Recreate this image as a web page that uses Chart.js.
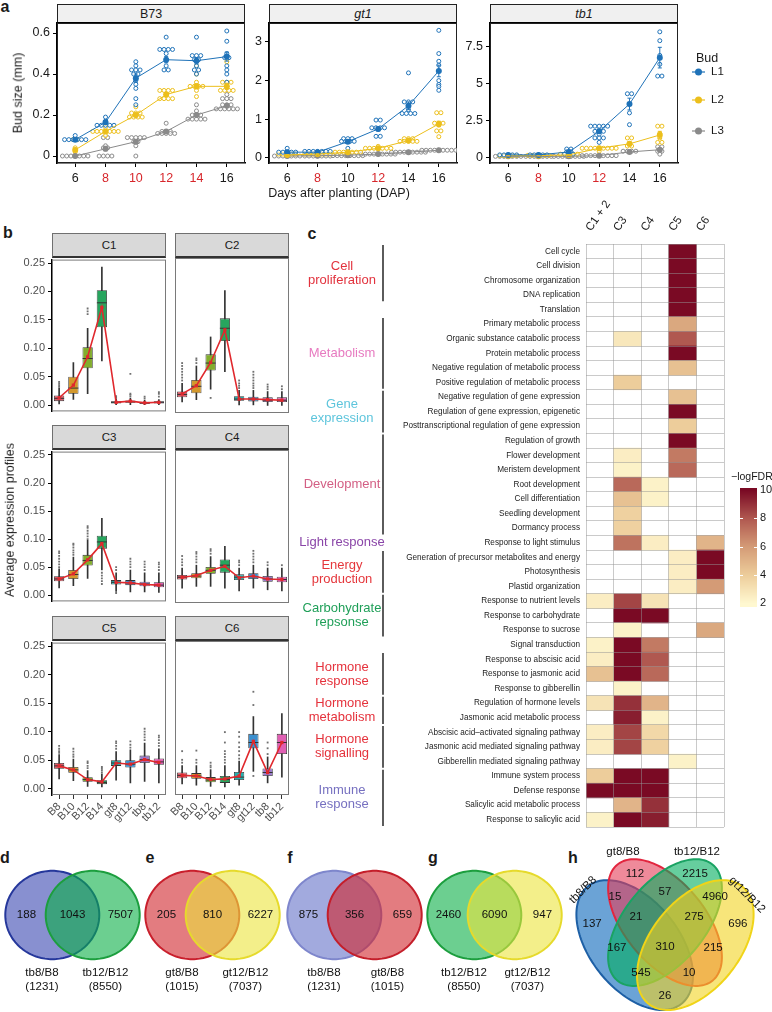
<!DOCTYPE html>
<html><head><meta charset="utf-8">
<script src="https://cdn.jsdelivr.net/npm/chart.js@4.4.1/dist/chart.umd.min.js"></script>
<style>
body{margin:0;width:772px;height:1012px;position:relative;overflow:hidden;background:#fff;font-family:'Liberation Sans',Arial,Helvetica,sans-serif;color:#1a1a1a}
canvas{position:absolute}
.lab{position:absolute;white-space:nowrap;line-height:1}
.stripA{position:absolute;box-sizing:border-box;background:#f0f0f0;border:1px solid #222;border-bottom:2px solid #000;display:flex;align-items:center;justify-content:center;font-size:12.5px}
.stripB{position:absolute;box-sizing:border-box;background:#d9d9d9;border:1px solid #707070;border-bottom:2px solid #333;display:flex;align-items:center;justify-content:center;font-size:11.5px}
</style></head><body>
<script>
// ================= DATA =================
// Panel a
const DAYS=[6,8,10,12,14,16];
const BUDS=['L1','L2','L3'];
const A_PANELS=['B73','gt1','tb1'];
const A_RED_DAYS=[[8,10,12,14],[8,12],[8,12]];
const A_YTICKS=[[0,0.2,0.4,0.6],[0,1,2,3],[0,2.5,5,7.5]];
const A_YLABELS=[['0','0.2','0.4','0.6'],['0','1','2','3'],['0','2.5','5','7.5']];
const B73_MEAN=[[0.08,0.165,0.38,0.47,0.465,0.485],[0.03,0.12,0.20,0.30,0.34,0.34],[0.0,0.035,0.07,0.12,0.20,0.245]];
const B73_SEM=[[0.004,0.006,0.02,0.015,0.015,0.022],[0.008,0.005,0.01,0.01,0.012,0.015],[0,0.01,0.01,0.006,0.008,0.008]];
// dot plot values: [value, number of dots] per day
const B73_DOTS=[
 [[[0.08,6],[0.1,1]],[[0.15,5],[0.17,1],[0.19,1]],[[0.46,1],[0.44,1],[0.42,3],[0.40,2],[0.37,1],[0.35,1],[0.33,1],[0.28,1],[0.25,1]],[[0.58,1],[0.52,4],[0.50,1],[0.44,1],[0.42,2]],[[0.58,1],[0.49,3],[0.47,2],[0.44,1],[0.42,2],[0.40,1]],[[0.61,1],[0.56,1],[0.50,1],[0.48,2],[0.44,1],[0.42,1],[0.40,1],[0.36,1]]],
 [[[0.02,1],[0.04,1],[0.08,2]],[[0.12,7],[0.14,1],[0.10,1]],[[0.24,1],[0.21,3],[0.19,4]],[[0.32,4],[0.30,1],[0.28,4]],[[0.44,1],[0.40,1],[0.36,1],[0.34,4],[0.32,1],[0.29,1]],[[0.46,1],[0.36,3],[0.34,1],[0.32,4]]],
 [[[0,7]],[[0.09,2],[0.05,1],[0.04,2],[0,4]],[[0.09,5],[0.07,2],[0.05,1],[0,1]],[[0.16,1],[0.12,3],[0.11,5]],[[0.25,1],[0.22,1],[0.20,3],[0.18,5]],[[0.30,1],[0.28,3],[0.25,3],[0.23,6]]]
];
const GT1_MEAN=[[0.15,0.15,0.42,0.75,1.35,2.25],[0.08,0.10,0.15,0.25,0.45,0.88],[0.05,0.06,0.07,0.10,0.15,0.20]];
const GT1_SEM=[[0.02,0.01,0.03,0.05,0.1,0.15],[0.01,0.01,0.01,0.02,0.02,0.07],[0,0,0,0.005,0.005,0.01]];
const GT1_DOTS=[
 [[[0.25,1],[0.15,5]],[[0.17,7]],[[0.5,3],[0.43,4],[0.25,1]],[[0.98,2],[0.78,4],[0.56,2]],[[2.2,1],[1.45,3],[1.35,1],[1.25,1],[1.15,4]],[[3.3,1],[2.7,1],[2.5,1],[2.4,1],[2.25,1],[2.0,1],[1.9,1],[1.85,1],[1.75,1]]],
 [[[0.1,5]],[[0.1,7]],[[0.15,7],[0.1,1]],[[0.3,1],[0.25,7]],[[0.5,3],[0.43,5]],[[1.17,2],[0.9,3],[0.85,1],[0.7,2],[0.55,1]]],
 [[[0.05,7]],[[0.05,7]],[[0.06,8]],[[0.1,9]],[[0.15,9]],[[0.2,9]]]
];
const TB1_MEAN=[[0.15,0.15,0.35,1.75,3.6,6.75],[0.1,0.1,0.15,0.6,0.9,1.5],[0.05,0.05,0.05,0.1,0.35,0.5]];
const TB1_SEM=[[0.02,0.02,0.05,0.15,0.4,0.7],[0.01,0.01,0.02,0.05,0.15,0.25],[0.01,0.01,0.01,0.01,0.05,0.1]];
const TB1_DOTS=[
 [[[0.15,5]],[[0.15,5]],[[0.55,2],[0.35,2],[0.2,3]],[[2.1,5],[1.75,3],[1.55,1],[1.3,3],[1.0,1]],[[4.3,2],[3.6,1],[3.0,1],[2.2,1]],[[8.5,1],[7.9,1],[6.9,1],[6.3,1],[5.5,2]]],
 [[[0.1,5]],[[0.12,6]],[[0.2,5]],[[0.6,9],[0.4,1]],[[1.3,2],[0.9,1],[0.75,2]],[[2.1,2],[1.6,1],[1.3,1],[1.0,2]]],
 [[[0.05,7]],[[0.05,7]],[[0.05,8]],[[0.1,9]],[[0.4,4]],[[0.7,2],[0.5,1],[0.4,2],[0.2,1]]]
];

// Panel b: per sample [lower whisker, q1, median, q3, upper whisker]
const B_SAMPLES=['B8','B10','B12','B14','gt8','gt12','tb8','tb12'];
const B_CLUSTERS=['C1','C2','C3','C4','C5','C6'];
const B_YTICKS=[0,0.05,0.10,0.15,0.20,0.25];
const B_YLABELS=['0.00','0.05','0.10','0.15','0.20','0.25'];
const C1_BOX=[[0.002,0.007,0.012,0.017,0.03],[0.01,0.02,0.03,0.05,0.075],[0.02,0.065,0.082,0.102,0.135],[0.078,0.137,0.18,0.202,0.243],[0,0.003,0.005,0.007,0.011],[0.001,0.004,0.006,0.008,0.012],[0,0.002,0.004,0.006,0.009],[0,0.003,0.005,0.007,0.01]];
const C1_MEAN=[0.013,0.035,0.085,0.172,0.005,0.007,0.004,0.005];
const C1_OUT=[[0.032,0.035,0.038,0.041],[],[0.16,0.165,0.17],[],[0.013,0.016],[0.015,0.018,0.02,0.055],[0.012,0.015],[0.015,0.02,0.023]];
const C2_BOX=[[0.008,0.016,0.021,0.026,0.04],[0.012,0.023,0.035,0.046,0.07],[0.03,0.062,0.075,0.09,0.12],[0.06,0.113,0.135,0.152,0.2],[0.003,0.01,0.013,0.018,0.028],[0.003,0.009,0.013,0.017,0.028],[0.002,0.008,0.011,0.016,0.026],[0.002,0.008,0.011,0.016,0.026]];
const C2_MEAN=[0.022,0.036,0.076,0.132,0.013,0.013,0.012,0.011];
const C2_OUT=[[0.045,0.05,0.055,0.06,0.065,0.07,0.075],[0.075,0.08,0.083],[0.015],[],[0.032,0.036,0.04,0.045],[0.032,0.036,0.04,0.045,0.05,0.055,0.06],[0.03,0.034,0.038],[0.03,0.035]];
const C3_BOX=[[0.013,0.025,0.029,0.034,0.047],[0.017,0.029,0.037,0.045,0.068],[0.03,0.053,0.062,0.072,0.098],[0.045,0.083,0.095,0.106,0.137],[0.007,0.019,0.023,0.027,0.04],[0.006,0.018,0.022,0.027,0.045],[0.006,0.016,0.02,0.024,0.04],[0.005,0.014,0.018,0.023,0.04]];
const C3_MEAN=[0.029,0.038,0.063,0.092,0.023,0.022,0.019,0.018];
const C3_OUT=[[0.05,0.055,0.06,0.065,0.07,0.075,0.078],[0.072,0.076,0.08,0.085,0.09,0.092],[0.1,0.105,0.11,0.115,0.12,0.123],[0.02,0.025,0.03,0.035,0.04],[0.004,0.045,0.05],[0.05,0.055,0.06,0.065],[0.045,0.05,0.055,0.06],[0.045,0.05,0.055,0.058]];
const C4_BOX=[[0.015,0.03,0.034,0.038,0.05],[0.018,0.032,0.036,0.041,0.055],[0.018,0.04,0.046,0.052,0.07],[0.015,0.042,0.055,0.065,0.088],[0.01,0.029,0.034,0.039,0.05],[0.015,0.031,0.035,0.041,0.055],[0.012,0.026,0.031,0.036,0.05],[0.01,0.025,0.03,0.035,0.05]];
const C4_MEAN=[0.034,0.037,0.046,0.053,0.033,0.036,0.031,0.03];
const C4_OUT=[[0.055,0.06,0.065,0.071],[0.06,0.065,0.07,0.075,0.078],[0.075,0.08,0.083],[],[0.055,0.06,0.063],[0.06,0.065,0.07,0.075,0.08],[0.055,0.06],[0.055]];
const C5_BOX=[[0.017,0.035,0.04,0.045,0.06],[0.014,0.028,0.033,0.038,0.052],[0.004,0.012,0.016,0.02,0.032],[0.003,0.008,0.011,0.015,0.025],[0.015,0.04,0.045,0.05,0.065],[0.01,0.037,0.043,0.05,0.068],[0.013,0.045,0.051,0.058,0.08],[0.01,0.042,0.047,0.053,0.07]];
const C5_MEAN=[0.04,0.033,0.016,0.012,0.045,0.043,0.051,0.046];
const C5_OUT=[[0.063,0.066,0.07,0.075],[0.056,0.06,0.065,0.07],[0.036,0.04,0.045,0.048],[0.028,0.032,0.035,0.038],[0.07,0.075,0.08,0.083],[0.072,0.077,0.083],[0.085,0.09,0.095,0.1,0.105],[0.075,0.08,0.085,0.09,0.093]];
const C6_BOX=[[0.008,0.018,0.023,0.028,0.04],[0.006,0.017,0.022,0.027,0.04],[0.004,0.011,0.015,0.02,0.033],[0.003,0.01,0.016,0.022,0.04],[0.006,0.015,0.02,0.029,0.048],[0.03,0.07,0.08,0.095,0.125],[0.01,0.022,0.028,0.035,0.055],[0.02,0.06,0.08,0.095,0.13]];
const C6_MEAN=[0.023,0.022,0.016,0.017,0.022,0.082,0.028,0.08];
const C6_OUT=[[0.045,0.05,0.065],[0.045,0.05,0.066],[0.037,0.04,0.045],[0.045,0.05,0.055,0.06,0.065,0.08,0.098],[0.052,0.058,0.065,0.072,0.08,0.09,0.098],[0.022,0.145,0.168],[0.06,0.07,0.08],[]];

// Panel c
const C_COLS=['C1 + 2','C3','C4','C5','C6'];
const C_TERMS=['Cell cycle','Cell division','Chromosome organization','DNA replication','Translation','Primary metabolic process','Organic substance catabolic process','Protein metabolic process','Negative regulation of metabolic process','Positive regulation of metabolic process','Negative regulation of gene expression','Regulation of gene expression, epigenetic','Posttranscriptional regulation of gene expression','Regulation of growth','Flower development','Meristem development','Root development','Cell differentiation','Seedling development','Dormancy process','Response to light stimulus','Generation of precursor metabolites and energy','Photosynthesis','Plastid organization','Response to nutrient levels','Response to carbohydrate','Response to sucrose','Signal transduction','Response to abscisic acid','Response to jasmonic acid','Response to gibberellin','Regulation of hormone levels','Jasmonic acid metabolic process','Abscisic acid\u2013activated signaling pathway','Jasmonic acid mediated signaling pathway','Gibberellin mediated signaling pathway','Immune system process','Defense response','Salicylic acid metabolic process','Response to salicylic acid'];
const N=null;
const C_LOGFDR=[
[N,N,N,10,N],[N,N,N,10,N],[N,N,N,10,N],[N,N,N,10,N],[N,N,N,10,N],
[N,N,N,5.5,N],[N,2.8,N,8,N],[N,N,N,10,N],[N,N,N,4.5,N],[N,4,N,N,N],
[N,N,N,4.5,N],[N,N,N,10,N],[N,N,N,4,N],[N,N,N,10,N],[N,2.5,N,7,N],
[N,2.3,N,7.5,N],[N,7.5,2.3,N,N],[N,4.5,2.3,N,N],[N,3.8,N,N,N],[N,3.8,N,N,N],
[N,7.2,2.5,N,5],[N,N,N,2.5,10],[N,N,N,2.5,10],[N,N,N,2.5,6],[2.5,8.5,3,N,N],
[N,10,10,N,N],[N,2.3,N,N,5.5],[2.3,10,7,N,N],[2.5,10,8,N,N],[4.5,10,7.5,N,N],
[N,2.3,N,N,N],[3,9,5,N,N],[N,9.5,2.3,N,N],[2.5,8.5,3.5,N,N],[2.5,8.5,3.8,N,N],
[N,N,N,2.3,N],[4,10,10,N,N],[10,10,10,N,N],[N,5,9,N,N],[2.3,10,9.5,N,N]];
const C_LEGEND_TICKS=[10,8,6,4,2];
const C_GROUP_NAMES=[['Cell','proliferation'],['Metabolism'],['Gene','expression'],['Development'],['Light response'],['Energy','production'],['Carbohydrate','repsonse'],['Hormone','response'],['Hormone','metabolism'],['Hormone','signalling'],['Immune','response']];
const C_GROUP_ROWS=[[0,3],[5,9],[10,12],[13,19],[20,20],[21,23],[24,26],[28,30],[31,32],[33,35],[36,39]];

// Panels d-h
const D_NAMES=['tb8/B8','tb12/B12'], D_TOTALS=[1231,8550], D_COUNTS=[188,1043,7507];
const E_NAMES=['gt8/B8','gt12/B12'], E_TOTALS=[1015,7037], E_COUNTS=[205,810,6227];
const F_NAMES=['tb8/B8','gt8/B8'], F_TOTALS=[1231,1015], F_COUNTS=[875,356,659];
const G_NAMES=['tb12/B12','gt12/B12'], G_TOTALS=[8550,7037], G_COUNTS=[2460,6090,947];
const H_NAMES=['tb8/B8','gt8/B8','tb12/B12','gt12/B12'];
// regions: A=tb8, B=gt8, C=tb12, D=gt12
const H_REGIONS=['A','B','C','D','AB','BC','CD','AC','ABC','BCD','ABCD','ACD','ABD','AD','BD'];
const H_COUNTS=[137,112,2215,696,15,57,4960,167,21,275,310,545,10,26,215];

// ================= STYLE / HELPERS =================
const FONT="'Liberation Sans', Arial, Helvetica, sans-serif";
Chart.defaults.font.family=FONT;
Chart.defaults.animation=false;
Chart.defaults.responsive=false;
Chart.defaults.plugins.legend.display=false;
Chart.defaults.plugins.tooltip.enabled=false;
Chart.defaults.events=[];
const BUD_COLORS=['#1f72b8','#ecbf1c','#8a8a8a'];
const B_FILL=['#e05a68','#d3982c','#82ad2d','#27a55e','#24b0ae','#3b8fce','#9a7acb','#e05fb3'];

function mk(x,y,w,h){const c=document.createElement('canvas');c.width=w;c.height=h;c.style.left=x+'px';c.style.top=y+'px';c.style.width=w+'px';c.style.height=h+'px';document.body.appendChild(c);return c;}
function T(s,x,y,css,rot){const d=document.createElement('div');d.className='lab';d.textContent=s;d.style.left=x+'px';d.style.top=y+'px';if(css)d.style.cssText+=css;d.style.transform='translate(-50%,-50%)'+(rot?' rotate('+rot+'deg)':'');document.body.appendChild(d);return d;}
function strip(cls,x,y,w,h,s,css){const d=document.createElement('div');d.className=cls;d.style.left=x+'px';d.style.top=y+'px';d.style.width=w+'px';d.style.height=h+'px';d.textContent=s;if(css)d.style.cssText+=css;document.body.appendChild(d);}
function frame(color,width){return {id:'frame',beforeDatasetsDraw(ch){const a=ch.chartArea,c=ch.ctx;c.save();c.strokeStyle=color;c.lineWidth=width;c.strokeRect(a.left+0.5,a.top+0.5,a.right-a.left-1,a.bottom-a.top-1);c.restore();}};}
const errBars={id:'errBars',afterDatasetsDraw(ch){const c=ch.ctx,ys=ch.scales.y;ch.data.datasets.forEach((ds,i)=>{if(!ds.sem)return;const m=ch.getDatasetMeta(i);c.save();c.strokeStyle=ds.borderColor;c.lineWidth=1;ds.data.forEach((p,k)=>{const e=ds.sem[k];if(!e)return;const x=m.data[k].x,y1=ys.getPixelForValue(p.y-e),y2=ys.getPixelForValue(p.y+e);c.beginPath();c.moveTo(x,y1);c.lineTo(x,y2);c.moveTo(x-2,y1);c.lineTo(x+2,y1);c.moveTo(x-2,y2);c.lineTo(x+2,y2);c.stroke();});c.restore();});}};
function dotsOf(pairs,day,sp){const out=[];pairs.forEach(([v,n])=>{for(let j=0;j<n;j++)out.push({x:day+(j-(n-1)/2)*sp,y:v});});return out;}

// panel letters
[['a',5,7],['b',8,233],['c',312,234],['d',5,858],['e',150,858],['f',290,858],['g',433,858],['h',573,858]].forEach(([s,x,y])=>T(s,x,y,'font-weight:bold;font-size:16px;'));

// ================= PANEL A =================
function makeA(i,pl,yW,yMin,yMax,dots,means,sems,legend){
  const pt=23,pw=188,ph=140,padT=12,padR=legend?94:12,xH=22;
  strip('stripA',pl,4,pw,20,A_PANELS[i],i>0?'font-style:italic;':'');
  const cv=mk(pl-yW,pt-padT,yW+pw+padR,padT+ph+xH);
  const ds=[];
  BUDS.forEach((b,s)=>ds.push({label:b,data:DAYS.map((d,k)=>({x:d,y:means[s][k]})),sem:sems[s],showLine:true,borderColor:BUD_COLORS[s],backgroundColor:BUD_COLORS[s],borderWidth:1,pointRadius:3,pointBorderWidth:0,order:s}));
  BUDS.forEach((b,s)=>{const pts=[];DAYS.forEach((d,k)=>pts.push(...dotsOf(dots[s][k],d,0.28)));ds.push({label:b+' dots',data:pts,borderColor:BUD_COLORS[s],backgroundColor:'rgba(255,255,255,0.55)',borderWidth:1,pointRadius:2,order:10+s});});
  const plugins=[frame('#222',1),errBars];
  if(legend){plugins.push({id:'budLegend',afterDraw(ch){const c=ch.ctx,x0=ch.chartArea.right;c.save();c.textBaseline='middle';c.textAlign='left';c.font='12.5px '+FONT;c.fillStyle='#1a1a1a';c.fillText('Bud',x0+18,48);
    BUDS.forEach((b,s)=>{const y=[61,89,120][s];c.strokeStyle=BUD_COLORS[s];c.lineWidth=1.2;c.beginPath();c.moveTo(x0+14,y);c.lineTo(x0+27,y);c.stroke();c.fillStyle=BUD_COLORS[s];c.beginPath();c.arc(x0+20.5,y,3.5,0,Math.PI*2);c.fill();c.fillStyle='#1a1a1a';c.font='11.5px '+FONT;c.fillText(b,x0+33,y);});c.restore();}});}
  new Chart(cv,{type:'scatter',data:{datasets:ds},options:{layout:{padding:{top:padT,right:padR,left:0,bottom:0}},
    scales:{
      x:{type:'linear',min:4.8,max:17.2,afterBuildTicks:s=>{s.ticks=DAYS.map(v=>({value:v}));},afterFit:s=>{s.height=xH;},
        ticks:{font:{size:12.5},color:c=>A_RED_DAYS[i].includes(c.tick.value)?'#d7262b':'#1a1a1a',padding:4,autoSkip:false,maxRotation:0,callback:v=>String(v)},
        grid:{display:true,drawOnChartArea:false,tickLength:4,tickColor:'#000'},border:{display:true,color:'#000',width:1.5}},
      y:{type:'linear',min:yMin,max:yMax,afterBuildTicks:s=>{s.ticks=A_YTICKS[i].map(v=>({value:v}));},afterFit:s=>{s.width=yW;},
        ticks:{font:{size:12.5},color:'#1a1a1a',padding:3,callback:(v,k)=>A_YLABELS[i][k]},
        grid:{display:true,drawOnChartArea:false,tickLength:4,tickColor:'#000'},border:{display:true,color:'#000',width:1.5}}
    }},plugins});
}
makeA(0,57,57,-0.034,0.649,B73_DOTS,B73_MEAN,B73_SEM,false);
makeA(1,269,24,-0.13,3.49,GT1_DOTS,GT1_MEAN,GT1_SEM,false);
makeA(2,490,34,-0.4,9.1,TB1_DOTS,TB1_MEAN,TB1_SEM,true);
T('Bud size (mm)',18,93,'font-size:12.5px;',-90);
T('Days after planting (DAP)',339,193,'font-size:12.5px;');

// ================= PANEL B =================
function makeB(ci,pl,pt,ph,showY,showX,box,mean,out){
  const pw=114,padT=8,padR=8,padL=showY?0:20,yW=showY?52:0,xH=showX?40:0,padB=showX?0:8;
  strip('stripB',pl,pt-25,pw,25,B_CLUSTERS[ci]);
  const cv=mk(pl-yW-padL,pt-padT,padL+yW+pw+padR,padT+ph+xH+padB);
  const outPts=[];out.forEach((arr,k)=>arr.forEach(v=>outPts.push({x:B_SAMPLES[k],y:v})));
  new Chart(cv,{type:'bar',data:{labels:B_SAMPLES,datasets:[
    {type:'line',label:'mean',data:mean,borderColor:'#e0282d',backgroundColor:'#e0282d',borderWidth:1.6,pointStyle:'rect',pointRadius:2.3,pointBorderWidth:0,order:0},
    {type:'line',label:'median',data:box.map(b=>b[2]),showLine:false,pointStyle:'line',pointRadius:5,pointBorderColor:'#333',pointBorderWidth:1,order:1},
    {type:'line',label:'outliers',data:outPts,showLine:false,pointStyle:'rect',pointRadius:1.3,pointBorderWidth:0,backgroundColor:'#707070',order:2},
    {label:'box',data:box.map(b=>[b[1],b[3]]),backgroundColor:B_FILL,borderColor:'#333',borderWidth:0.8,borderSkipped:false,barPercentage:0.72,categoryPercentage:1,grouped:false,order:3},
    {label:'whisker',data:box.map(b=>[b[0],b[4]]),backgroundColor:'#333',barThickness:1,grouped:false,order:4}
  ]},options:{layout:{padding:{top:padT,right:padR,left:padL,bottom:padB}},
    scales:{
      x:{display:showX,offset:true,afterFit:s=>{s.height=xH;},ticks:{font:{size:11},color:'#4d4d4d',minRotation:45,maxRotation:45,padding:1,autoSkip:false},
        grid:{display:true,offset:false,drawOnChartArea:false,tickLength:4,tickColor:'#333'},border:{display:false}},
      y:{display:showY,min:-0.011,max:0.256,afterBuildTicks:s=>{s.ticks=B_YTICKS.map(v=>({value:v}));},afterFit:s=>{s.width=yW;},
        ticks:{font:{size:11},color:'#4d4d4d',padding:3,callback:(v,k)=>B_YLABELS[k]},
        grid:{display:true,drawOnChartArea:false,tickLength:4,tickColor:'#000'},border:{display:true,color:'#000',width:1.5}}
    }},plugins:[frame('#7a7a7a',1)]});
}
makeB(0,52,258,155,true,false,C1_BOX,C1_MEAN,C1_OUT);
makeB(1,175,258,155,false,false,C2_BOX,C2_MEAN,C2_OUT);
makeB(2,52,450,153,true,false,C3_BOX,C3_MEAN,C3_OUT);
makeB(3,175,450,153,false,false,C4_BOX,C4_MEAN,C4_OUT);
makeB(4,52,641,154,true,true,C5_BOX,C5_MEAN,C5_OUT);
makeB(5,175,641,154,false,true,C6_BOX,C6_MEAN,C6_OUT);
T('Average expression profiles',10,520,'font-size:12.5px;',-90);

// ================= PANEL C =================
const HSTOPS=[[2,[255,248,208]],[4,[237,205,155]],[6,[212,155,118]],[8,[176,88,80]],[10,[122,10,36]]];
function heatColor(v){if(v==null)return 'rgba(255,255,255,0)';v=Math.max(2,Math.min(10,v));for(let i=1;i<HSTOPS.length;i++){if(v<=HSTOPS[i][0]){const [a,ca]=HSTOPS[i-1],[b,cb]=HSTOPS[i];const t=(v-a)/(b-a);return 'rgb('+ca.map((x,j)=>Math.round(x+(cb[j]-x)*t)).join(',')+')';}}return 'rgb(122,10,36)';}
const GROUP_COLORS=['#e2323d','#e77ac0','#5ec5dc','#d35f84','#8a45a8','#e5373c','#1f9f58','#e5323c','#e5323c','#e5323c','#7670c0'];
const heatDeco={id:'heatDeco',afterDraw(ch){
  const c=ch.ctx,ys=ch.scales.y,rh=ys.getPixelForValue(1)-ys.getPixelForValue(0);
  c.save();
  C_GROUP_NAMES.forEach((name,g)=>{
    const [r0,r1]=C_GROUP_ROWS[g];const y0=ys.getPixelForValue(r0)-rh/2+1,y1=ys.getPixelForValue(r1)+rh/2-1;
    if(r1>r0){c.strokeStyle='#333';c.lineWidth=1.6;c.beginPath();c.moveTo(83,y0);c.lineTo(83,y1);c.stroke();}
    c.fillStyle=GROUP_COLORS[g];c.font='13px '+FONT;c.textAlign='center';c.textBaseline='middle';
    const yc=(y0+y1)/2;name.forEach((s,k)=>c.fillText(s,42,yc+(k-(name.length-1)/2)*14));
  });
  // colour bar legend
  const bx=440,bw=17,yTop=290,yBot=403;
  for(let y=yTop-2;y<=yBot+3;y++){const v=2+(yBot-y)/(yBot-yTop)*8;c.fillStyle=heatColor(v);c.fillRect(bx,y,bw,1);}
  c.strokeStyle='#fff';c.lineWidth=1;
  [4,6,8].forEach(v=>{const y=Math.round(yBot-(v-2)/8*(yBot-yTop))+0.5;c.beginPath();c.moveTo(bx,y);c.lineTo(bx+3,y);c.moveTo(bx+bw-3,y);c.lineTo(bx+bw,y);c.stroke();});
  c.fillStyle='#1a1a1a';c.textAlign='left';c.textBaseline='middle';c.font='10.5px '+FONT;
  c.fillText('\u2212logFDR',431,277);
  c.font='11px '+FONT;
  C_LEGEND_TICKS.forEach(v=>c.fillText(String(v),bx+bw+3,yBot-(v-2)/8*(yBot-yTop)));
  c.restore();
}};
(function(){
  const cv=mk(300,200,472,640);
  new Chart(cv,{type:'bar',data:{labels:C_TERMS,datasets:C_COLS.map((col,k)=>({label:col,data:C_TERMS.map(()=>[k,k+1]),backgroundColor:C_LOGFDR.map(r=>heatColor(r[k])),borderWidth:0,barPercentage:1,categoryPercentage:1,grouped:false}))},
    options:{indexAxis:'y',layout:{padding:{top:0,right:48,left:0,bottom:13}},
      scales:{
        x:{type:'linear',position:'top',min:0,max:5,afterBuildTicks:s=>{s.ticks=[0,1,2,3,4,5].map(v=>({value:v}));},afterFit:s=>{s.height=0;},
          ticks:{display:false},grid:{color:'rgba(150,150,150,0.5)',lineWidth:1,drawTicks:false,z:1},border:{display:false}},
        x2:{type:'linear',position:'top',min:0,max:5,afterBuildTicks:s=>{s.ticks=[0.5,1.5,2.5,3.5,4.5].map(v=>({value:v}));},afterFit:s=>{s.height=44;},
          ticks:{callback:(v,k)=>C_COLS[k],minRotation:55,maxRotation:55,autoSkip:false,font:{size:11.5},color:'#1a1a1a',padding:2},grid:{display:false},border:{display:false}},
        y:{type:'category',afterFit:s=>{s.width=286;},ticks:{font:{size:8.2},color:'#222',padding:6,autoSkip:false},
          grid:{offset:true,color:'rgba(150,150,150,0.5)',drawTicks:false,z:1},border:{display:false}}
      }},plugins:[heatDeco]});
})();

// ================= PANELS D-H =================
function ellipsePath(c,xs,ys,cx,cy,a,b,rot){const th=rot*Math.PI/180;c.beginPath();for(let t=0;t<=160;t++){const q=t/160*2*Math.PI;const u=cx+a*Math.cos(q)*Math.cos(th)-b*Math.sin(q)*Math.sin(th);const v=cy+a*Math.cos(q)*Math.sin(th)+b*Math.sin(q)*Math.cos(th);const px=xs.getPixelForValue(u),py=ys.getPixelForValue(v);if(t)c.lineTo(px,py);else c.moveTo(px,py);}c.closePath();}
function vennPlugin(shapes){return {id:'venn',beforeDatasetsDraw(ch){const c=ch.ctx,xs=ch.scales.x,ys=ch.scales.y;c.save();shapes.forEach(s=>{ellipsePath(c,xs,ys,s.cx,s.cy,s.a,s.b,s.rot);c.fillStyle=s.fill;c.fill();c.strokeStyle=s.stroke;c.lineWidth=2;c.stroke();});c.restore();},
  afterDatasetsDraw(ch){const c=ch.ctx;c.save();c.fillStyle='#111';c.textAlign='center';c.textBaseline='middle';c.font='11.5px '+FONT;ch.data.datasets.forEach((ds,i)=>{const m=ch.getDatasetMeta(i);ds.texts.forEach((s,k)=>{const p=m.data[k];c.save();c.translate(p.x,p.y);if(ds.rot)c.rotate(ds.rot[k]*Math.PI/180);c.fillText(s,0,0);c.restore();});});c.restore();}};}
function venn2(left,names,totals,counts,fills,strokes){
  const cv=mk(left,840,141,172);
  const shapes=[{cx:-0.43,cy:0,a:1,b:0.94,rot:0,fill:fills[0],stroke:strokes[0]},{cx:0.43,cy:0,a:1,b:0.94,rot:0,fill:fills[1],stroke:strokes[1]}];
  new Chart(cv,{type:'scatter',data:{datasets:[
    {label:'counts',texts:counts.map(String),data:[{x:-0.98,y:0},{x:0,y:0},{x:1.02,y:0}],pointRadius:0},
    {label:'names',texts:[names[0],'('+totals[0]+')',names[1],'('+totals[1]+')'],data:[{x:-0.65,y:-1.234},{x:-0.65,y:-1.532},{x:0.7,y:-1.234},{x:0.7,y:-1.532}],pointRadius:0}
  ]},options:{layout:{padding:0},scales:{x:{display:false,min:-1.5,max:1.5},y:{display:false,min:-2.064,max:1.596}}},plugins:[vennPlugin(shapes)]});
}
const BLUE_F='rgba(57,70,177,0.6)',GREEN_F='rgba(10,175,70,0.6)',RED_F='rgba(208,37,43,0.6)',YEL_F='rgba(235,228,60,0.6)';
venn2(2,D_NAMES,D_TOTALS,D_COUNTS,[BLUE_F,GREEN_F],['#25379b','#1c9e3e']);
venn2(142,E_NAMES,E_TOTALS,E_COUNTS,[RED_F,YEL_F],['#c91f2c','#e6da2c']);
venn2(284,F_NAMES,F_TOTALS,F_COUNTS,['rgba(70,85,190,0.5)',RED_F],['#7e86cc','#c41e2a']);
venn2(424,G_NAMES,G_TOTALS,G_COUNTS,[GREEN_F,YEL_F],['#1c9e3e','#e6da2c']);
(function(){
  const cv=mk(560,840,212,172);
  const shapes=[
    {cx:0.35,cy:0.47,a:0.35,b:0.21,rot:135,fill:'rgba(8,102,187,0.6)',stroke:'#1d5fa5'},
    {cx:0.50,cy:0.57,a:0.35,b:0.19,rot:135,fill:'rgba(228,60,87,0.6)',stroke:'#e2263f'},
    {cx:0.50,cy:0.57,a:0.35,b:0.19,rot:45,fill:'rgba(0,173,93,0.6)',stroke:'#1aa363'},
    {cx:0.65,cy:0.47,a:0.35,b:0.21,rot:45,fill:'rgba(242,212,33,0.6)',stroke:'#f0d418'}];
  const POS={A:[0.139,0.564],B:[0.351,0.786],C:[0.649,0.786],D:[0.861,0.564],AB:[0.252,0.684],BC:[0.5,0.706],CD:[0.748,0.686],AC:[0.262,0.457],ABC:[0.356,0.595],BCD:[0.644,0.595],ABCD:[0.5,0.461],ACD:[0.381,0.346],ABD:[0.619,0.346],AD:[0.5,0.244],BD:[0.738,0.457]};
  new Chart(cv,{type:'scatter',data:{datasets:[
    {label:'counts',texts:H_COUNTS.map(String),data:H_REGIONS.map(r=>({x:POS[r][0],y:POS[r][1]})),pointRadius:0},
    {label:'names',texts:H_NAMES,rot:[-45,0,0,45],data:[{x:0.094,y:0.715},{x:0.292,y:0.884},{x:0.658,y:0.884},{x:0.906,y:0.693}],pointRadius:0}
  ]},options:{layout:{padding:0},scales:{x:{display:false,min:-0.0198,max:1.0297},y:{display:false,min:0.1725,max:0.937}}},plugins:[vennPlugin(shapes)]});
})();
</script>
</body></html>
